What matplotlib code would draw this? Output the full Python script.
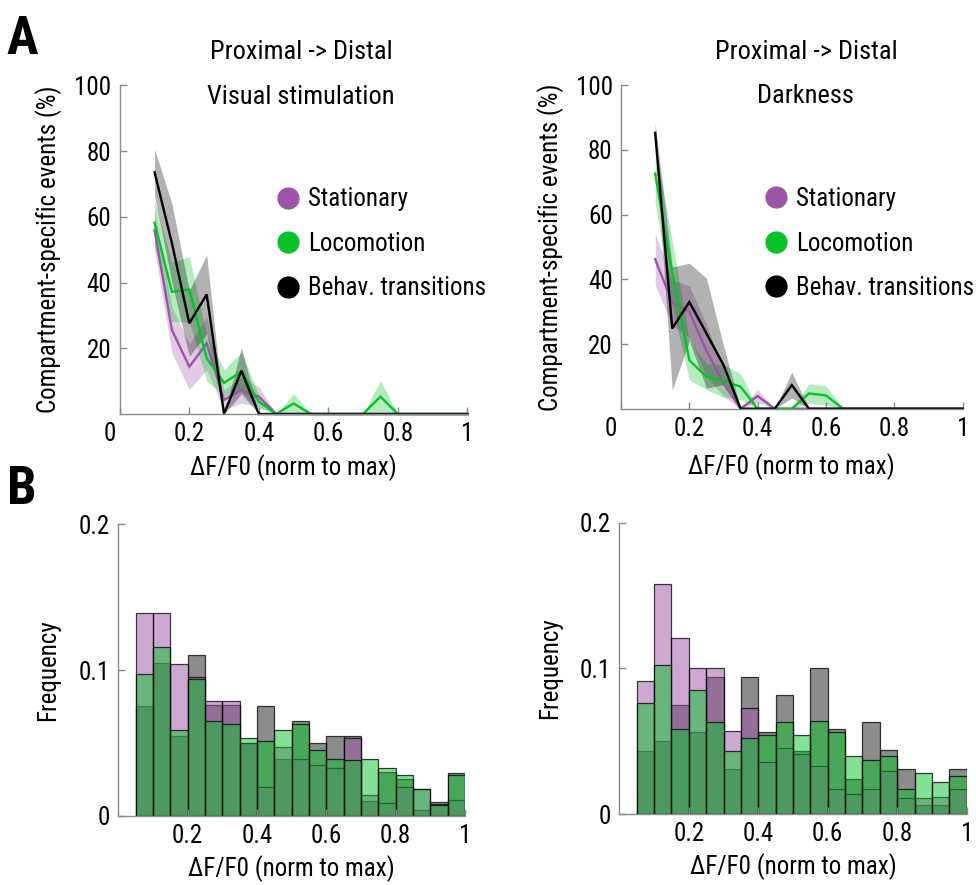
import matplotlib
matplotlib.use("Agg")
import matplotlib.pyplot as plt
from matplotlib import font_manager as fm
from matplotlib.lines import Line2D
from matplotlib.transforms import ScaledTranslation
import numpy as np

# Prefer a narrow sans-serif face for all text
_available = {f.name for f in fm.fontManager.ttflist}
_narrow = None
for cand in ['Liberation Sans Narrow', 'Roboto Condensed', 'Noto Sans Condensed',
             'Open Sans Condensed', 'DejaVu Sans Condensed', 'Arial Narrow']:
    if cand in _available:
        _narrow = cand
        break
if _narrow is None:
    for f in fm.fontManager.ttflist:
        if ('Narrow' in f.name or 'Condensed' in f.name) and 'Mono' not in f.name:
            _narrow = f.name
            break

if _narrow is not None:
    plt.rcParams['font.family'] = [_narrow, 'DejaVu Sans']
    FS = 18
else:
    plt.rcParams['font.family'] = ['DejaVu Sans']
    FS = 14

# ---------------- data ----------------
# dF/F0 bin centres for compartment-specific event curves
dff = [0.10, 0.15, 0.20, 0.25, 0.30, 0.35, 0.40, 0.45, 0.50, 0.55,
       0.60, 0.65, 0.70, 0.75, 0.80, 0.85, 0.90, 0.95, 1.00]

# Visual stimulation: mean and SEM (%)
stat_vis = [56, 25.6, 14.4, 21.5, 4.3, 7.3, 5.3, 0, 0, 0, 0, 0, 0, 0, 0, 0, 0, 0, 0]
stat_vis_sem = [6, 7, 7, 8, 3, 4, 3, 0, 0, 0, 0, 0, 0, 0, 0, 0, 0, 0, 0]
loco_vis = [58.2, 37.2, 37.9, 17, 9.5, 12.9, 3.8, 0, 3.2, 0, 0, 0, 0, 5.3, 0, 0, 0, 0, 0]
loco_vis_sem = [7, 9, 10, 7, 4, 6, 2, 0, 3, 0, 0, 0, 0, 5, 0, 0, 0, 0, 0]
trans_vis = [73.6, 52, 27.6, 36.4, 0, 13.2, 0, 0, 0, 0, 0, 0, 0, 0, 0, 0, 0, 0, 0]
trans_vis_sem = [7, 12, 10, 12, 0, 7, 0, 0, 0, 0, 0, 0, 0, 0, 0, 0, 0, 0, 0]

# Darkness: mean and SEM (%)
stat_dark = [46.2, 32.8, 30, 18, 7.8, 0, 3.9, 0, 0, 0, 0, 0, 0, 0, 0, 0, 0, 0, 0]
stat_dark_sem = [8, 7, 8, 8, 4, 0, 2, 0, 0, 0, 0, 0, 0, 0, 0, 0, 0, 0, 0]
loco_dark = [72.7, 42, 15, 9.9, 8.6, 6.8, 0, 0, 0, 4.7, 4.1, 0, 0, 0, 0, 0, 0, 0, 0]
loco_dark_sem = [9, 10, 6, 4, 5, 4, 0, 0, 0, 3, 3, 0, 0, 0, 0, 0, 0, 0, 0]
trans_dark = [85.3, 24.8, 33, 23.3, 13.5, 0, 0, 0, 7.3, 0, 0, 0, 0, 0, 0, 0, 0, 0, 0]
trans_dark_sem = [3, 19, 12, 17, 6, 0, 0, 0, 4, 0, 0, 0, 0, 0, 0, 0, 0, 0, 0]

# Amplitude histograms: left bin edges (width 0.05) and frequencies
bin_left = [0.05, 0.10, 0.15, 0.20, 0.25, 0.30, 0.35, 0.40, 0.45, 0.50,
            0.55, 0.60, 0.65, 0.70, 0.75, 0.80, 0.85, 0.90, 0.95]
bin_width = 0.05

stat_h_vis = [0.139, 0.139, 0.104, 0.095, 0.079, 0.079, 0.050, 0.020, 0.047, 0.039,
              0.035, 0.033, 0.053, 0.014, 0.009, 0.020, 0.018, 0.008, 0.011]
loco_h_vis = [0.097, 0.116, 0.059, 0.094, 0.065, 0.063, 0.053, 0.051, 0.059, 0.063,
              0.045, 0.039, 0.038, 0.039, 0.033, 0.028, 0.018, 0.0075, 0.028]
trans_h_vis = [0.075, 0.105, 0.055, 0.110, 0.076, 0.076, 0.050, 0.075, 0.039, 0.065,
               0.050, 0.055, 0.055, 0.010, 0.030, 0.025, 0.004, 0.0096, 0.0295]

stat_h_dark = [0.091, 0.158, 0.121, 0.100, 0.100, 0.057, 0.0725, 0.0355, 0.045, 0.041,
               0.033, 0.017, 0.014, 0.017, 0.0295, 0.011, 0.011, 0.012, 0.017]
loco_h_dark = [0.076, 0.102, 0.058, 0.085, 0.063, 0.043, 0.052, 0.054, 0.063, 0.0545,
               0.064, 0.0565, 0.040, 0.037, 0.040, 0.017, 0.028, 0.022, 0.026]
trans_h_dark = [0.043, 0.050, 0.075, 0.056, 0.094, 0.031, 0.094, 0.056, 0.082, 0.043,
                0.100, 0.058, 0.024, 0.063, 0.044, 0.031, 0.006, 0.006, 0.031]

labels = ['Stationary', 'Locomotion', 'Behav. transitions']
c_stat = '#9C55A6'
c_loco = '#08C22A'
c_trans = '#000000'
axis_grey = '#8a8a8a'

# ---------------- figure ----------------
W, H = 976, 885
fig = plt.figure(figsize=(W / 100, H / 100), dpi=100)


def px_axes(x0, x1, y_top, y_bot):
    return fig.add_axes([x0 / W, 1 - y_bot / H, (x1 - x0) / W, (y_bot - y_top) / H])


def style(ax):
    for s in ('top', 'right'):
        ax.spines[s].set_visible(False)
    for s in ('left', 'bottom'):
        ax.spines[s].set_color(axis_grey)
        ax.spines[s].set_linewidth(1.0)
    ax.tick_params(direction='in', length=5, width=1, color=axis_grey,
                   labelsize=FS, pad=6)


def curves(ax, title2, series, xlab_y, ylab_x, title_x, leg_anchor):
    x = np.array(dff)
    for (m, s), c in zip(series, (c_stat, c_loco, c_trans)):
        m = np.array(m)
        s = np.array(s)
        ax.fill_between(x, m - s, m + s, color=c, alpha=0.3, lw=0)
        ax.plot(x, m, color=c, lw=1.7, solid_joinstyle='miter', clip_on=False)
    ax.set_xlim(0, 1)
    ax.set_ylim(0, 100)
    style(ax)
    ax.set_xticks([0, 0.2, 0.4, 0.6, 0.8, 1])
    ax.set_xticklabels(['0', '0.2', '0.4', '0.6', '0.8', '1'])
    ax.set_yticks([20, 40, 60, 80, 100])
    ax.set_yticklabels(['20', '40', '60', '80', '100'])
    zero = ax.get_xticklabels()[0]
    zero.set_transform(zero.get_transform() + ScaledTranslation(-10 / 100, 0, fig.dpi_scale_trans))
    ax.set_xlabel('ΔF/F0 (norm to max)', fontsize=FS)
    ax.xaxis.set_label_coords(0.5, xlab_y)
    ax.set_ylabel('Compartment-specific events (%)', fontsize=FS)
    ax.yaxis.set_label_coords(ylab_x, 0.5)
    ax.text(title_x, 1.102, 'Proximal -> Distal', transform=ax.transAxes,
            ha='center', va='center', fontsize=FS + 1)
    ax.text(title_x, 0.966, title2, transform=ax.transAxes,
            ha='center', va='center', fontsize=FS + 1)
    handles = [Line2D([], [], ls='', marker='o', markersize=15, color=c, mec=c)
               for c in (c_stat, c_loco, c_trans)]
    ax.legend(handles, labels, loc='upper left', bbox_to_anchor=leg_anchor,
              frameon=False, fontsize=FS, handlelength=1.0, handletextpad=0.3,
              labelspacing=0.82, borderpad=0, borderaxespad=0)


def hists(ax, stat, loco, trans, xlab_y, ylab_x):
    edge = (0, 0, 0, 0.75)
    for h, c, a in ((trans, c_trans, 0.45), (stat, c_stat, 0.5), (loco, c_loco, 0.5)):
        rgb = matplotlib.colors.to_rgb(c)
        ax.bar(bin_left, h, width=bin_width, align='edge',
               facecolor=(*rgb, a), edgecolor=edge, linewidth=0.9)
    ax.set_xlim(0, 1)
    ax.set_ylim(0, 0.2)
    style(ax)
    ax.set_xticks([0.2, 0.4, 0.6, 0.8, 1])
    ax.set_xticklabels(['0.2', '0.4', '0.6', '0.8', '1'])
    ax.set_yticks([0, 0.1, 0.2])
    ax.set_yticklabels(['0', '0.1', '0.2'])
    ax.set_xlabel('ΔF/F0 (norm to max)', fontsize=FS)
    ax.xaxis.set_label_coords(0.5, xlab_y)
    ax.set_ylabel('Frequency', fontsize=FS)
    ax.yaxis.set_label_coords(ylab_x, 0.5)


ax1 = px_axes(119.8, 467.3, 85.5, 414.0)
curves(ax1, 'Visual stimulation',
       [(stat_vis, stat_vis_sem), (loco_vis, loco_vis_sem), (trans_vis, trans_vis_sem)],
       -0.122, -0.166, 0.521, (0.447, 0.69))

ax2 = px_axes(621.0, 962.7, 85.3, 408.7)
curves(ax2, 'Darkness',
       [(stat_dark, stat_dark_sem), (loco_dark, loco_dark_sem), (trans_dark, trans_dark_sem)],
       -0.137, -0.168, 0.541, (0.418, 0.685))

ax3 = px_axes(118.4, 465.0, 524.3, 815.7)
hists(ax3, stat_h_vis, loco_h_vis, trans_h_vis, -0.135, -0.168)

ax4 = px_axes(619.3, 966.7, 522.6, 814.0)
hists(ax4, stat_h_dark, loco_h_dark, trans_h_dark, -0.135, -0.165)

fig.text(22 / W, 1 - 40 / H, 'A', fontsize=38, fontweight='bold', ha='center', va='center')
fig.text(22 / W, 1 - 490 / H, 'B', fontsize=38, fontweight='bold', ha='center', va='center')

fig.savefig('out.png', dpi=100, facecolor='white')
